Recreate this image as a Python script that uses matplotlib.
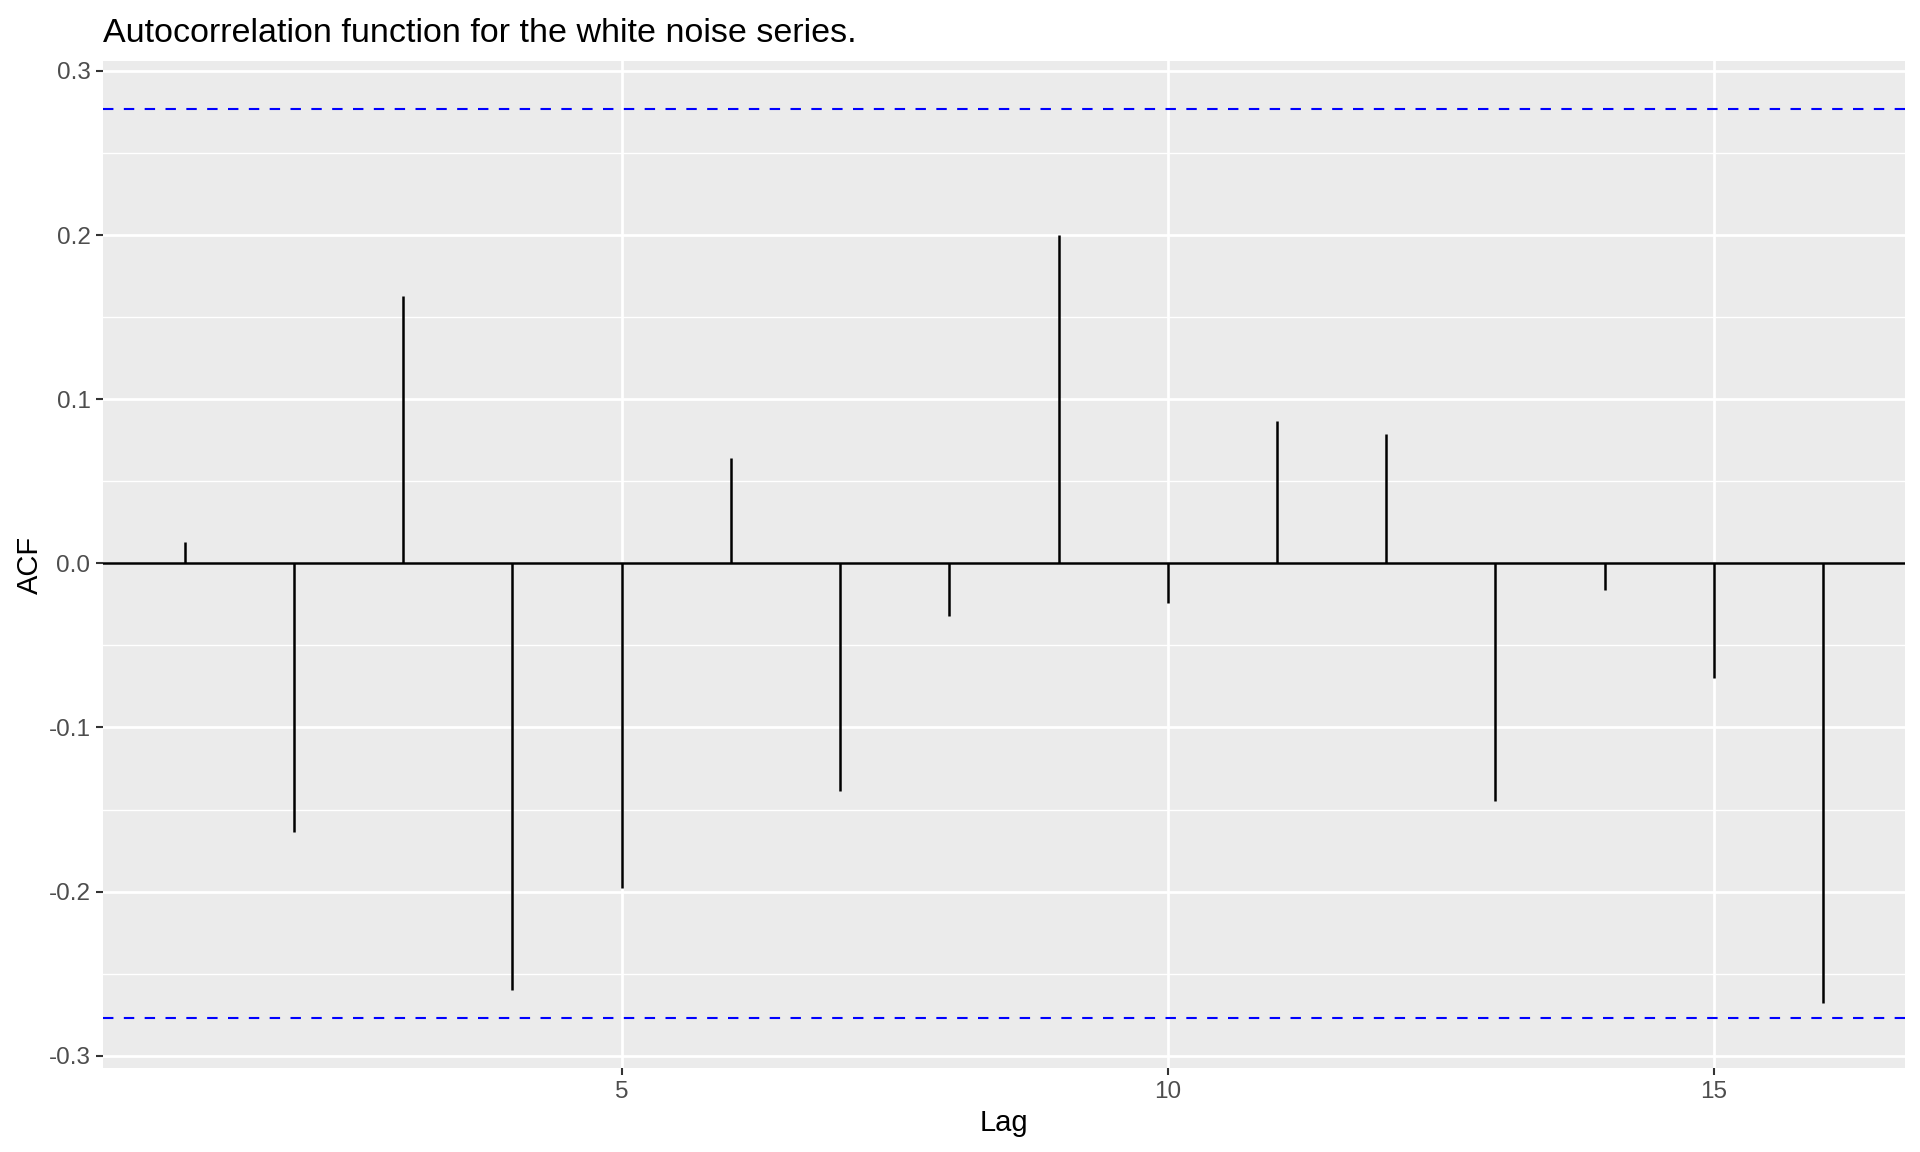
import matplotlib
matplotlib.use("Agg")
import matplotlib.pyplot as plt
import numpy as np

plt.rcParams["font.family"] = ["Liberation Sans", "DejaVu Sans"]

# ACF values
lags = list(range(1, 17))
acf = [0.013, -0.164, 0.163, -0.260, -0.198, 0.064, -0.139, -0.032,
       0.200, -0.024, 0.087, 0.079, -0.145, -0.016, -0.070, -0.268]
conf = 0.277
x_ticks = [5, 10, 15]
y_ticks = [-0.3, -0.2, -0.1, 0.0, 0.1, 0.2, 0.3]
y_minor = [-0.25, -0.15, -0.05, 0.05, 0.15, 0.25]

fig = plt.figure(figsize=(19.2, 11.52), dpi=100)
ax = fig.add_axes([0.0536, 0.0729, 0.9386, 0.8741])
ax.set_facecolor("#EBEBEB")
for s in ax.spines.values():
    s.set_visible(False)

ax.set_xlim(0.25, 16.75)
ax.set_ylim(-0.3075, 0.306)
ax.set_xticks(x_ticks)
ax.set_yticks(y_ticks)
ax.set_yticks(y_minor, minor=True)
ax.set_yticklabels([f"{v:.1f}" for v in y_ticks])

ax.grid(which="major", axis="both", color="white", linewidth=2.0)
ax.grid(which="minor", axis="y", color="white", linewidth=1.0)
ax.set_axisbelow(True)

ax.tick_params(axis="both", which="major", length=5, width=1.5, color="#333333",
               labelsize=17.5, labelcolor="#4D4D4D", pad=4)
ax.tick_params(axis="y", which="minor", length=0)

ax.axhline(0, color="black", linewidth=1.8)
ax.vlines(lags, 0, acf, color="black", linewidth=1.8)
ax.axhline(conf, color="blue", linestyle=(0, (5, 5)), linewidth=1.5)
ax.axhline(-conf, color="blue", linestyle=(0, (5, 5)), linewidth=1.5)

ax.set_xlabel("Lag", fontsize=21, labelpad=5)
ax.set_ylabel("ACF", fontsize=21, labelpad=3)
ax.set_title("Autocorrelation function for the white noise series.",
             fontsize=24.5, loc="left", pad=14)

fig.savefig("out.png", dpi=100)
